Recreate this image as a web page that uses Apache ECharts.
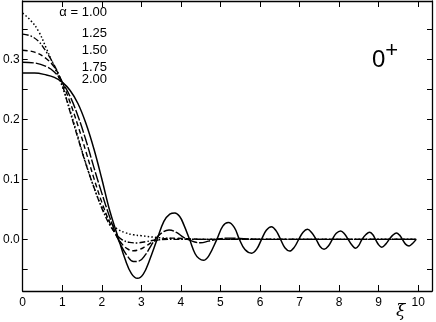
<!DOCTYPE html>
<html>
<head>
<meta charset="utf-8">
<script src="https://cdn.jsdelivr.net/npm/echarts@6/dist/echarts.min.js"></script>
<style>
html, body { margin: 0; padding: 0; background: #fff; }
#chart { width: 436px; height: 322px; }
</style>
</head>
<body>
<div id="chart"></div>
<script>
// curves, [xi, value]
var alpha100 = [[0, 0.377], [0.2, 0.365], [0.4, 0.347], [0.6, 0.318], [0.75, 0.295], [0.9, 0.272], [1.0, 0.255], [1.2, 0.215], [1.4, 0.17], [1.6, 0.126], [1.8, 0.087], [2.0, 0.054], [2.2, 0.03], [2.4, 0.017], [2.6, 0.011], [2.8, 0.0075], [3.0, 0.006], [3.4, 0.003], [3.8, 0.0012], [4.3, 0], [9.95, 0]]
var alpha125 = [[0, 0.342], [0.2, 0.339], [0.4, 0.33], [0.6, 0.312], [0.8, 0.29], [0.96, 0.266], [1.2, 0.212], [1.4, 0.168], [1.6, 0.125], [1.8, 0.087], [2.0, 0.052], [2.2, 0.024], [2.35, 0.01], [2.5, 0.0], [2.7, -0.005], [2.9, -0.006], [3.1, -0.004], [3.4, -0.001], [3.8, 0], [9.95, 0]]
var alpha150 = [[0, 0.315], [0.3, 0.312], [0.6, 0.301], [0.8, 0.287], [0.96, 0.268], [1.2, 0.228], [1.4, 0.189], [1.6, 0.146], [1.8, 0.102], [2.0, 0.062], [2.2, 0.028], [2.35, 0.008], [2.5, -0.007], [2.65, -0.016], [2.8, -0.019], [2.95, -0.017], [3.1, -0.012], [3.3, -0.004], [3.5, 0.0], [3.8, 0.002], [4.2, 0.001], [4.6, 0], [9.95, 0]]
var alpha175 = [[0, 0.295], [0.3, 0.294], [0.6, 0.288], [0.8, 0.279], [0.96, 0.266], [1.2, 0.238], [1.4, 0.205], [1.6, 0.165], [1.8, 0.12], [2.0, 0.077], [2.2, 0.037], [2.35, 0.01], [2.5, -0.012], [2.65, -0.028], [2.8, -0.037], [2.95, -0.036], [3.1, -0.026], [3.25, -0.01], [3.35, 0], [3.5, 0.01], [3.7, 0.0155], [3.9, 0.011], [4.05, 0.004], [4.17, 0], [4.35, -0.0045], [4.5, -0.0057], [4.7, -0.003], [4.9, 0], [5.2, 0.002], [5.5, 0.0015], [6.0, 0], [9.95, 0]]
var alpha200 = [[0, 0.277], [0.3, 0.277], [0.6, 0.274], [0.8, 0.27], [1.0, 0.262], [1.2, 0.248], [1.4, 0.226], [1.6, 0.193], [1.8, 0.151], [2.0, 0.101], [2.2, 0.048], [2.4, 0.006], [2.6, -0.035], [2.75, -0.057], [2.9, -0.065], [3.05, -0.058], [3.2, -0.036], [3.4, 0], [3.57, 0.03], [3.72, 0.042], [3.85, 0.044], [3.97, 0.038], [4.07, 0.025], [4.22, 0], [4.36, -0.024], [4.46, -0.032], [4.57, -0.035], [4.71, -0.027], [4.91, 0], [5.06, 0.022], [5.2, 0.028], [5.35, 0.02], [5.48, 0], [5.62, -0.017], [5.79, -0.023], [5.92, -0.016], [6.04, 0], [6.16, 0.015], [6.29, 0.021], [6.41, 0.014], [6.52, 0], [6.63, -0.014], [6.75, -0.0195], [6.87, -0.013], [6.98, 0], [7.09, 0.012], [7.2, 0.0167], [7.31, 0.011], [7.42, 0], [7.52, -0.012], [7.62, -0.0167], [7.73, -0.011], [7.83, 0], [7.93, 0.01], [8.04, 0.014], [8.14, 0.009], [8.23, 0], [8.33, -0.01], [8.42, -0.015], [8.5, -0.01], [8.58, 0], [8.68, 0.008], [8.77, 0.0117], [8.85, 0.008], [8.92, 0], [9.0, -0.009], [9.08, -0.013], [9.18, -0.008], [9.27, 0], [9.36, 0.007], [9.45, 0.0105], [9.53, 0.007], [9.6, 0], [9.68, -0.008], [9.77, -0.011], [9.87, -0.006], [9.95, 0]]

var xTicks = [0, 1, 2, 3, 4, 5, 6, 7, 8, 9, 10]
var yLabels = [0, 0.1, 0.2, 0.3]
var yTicks = [-0.05, 0, 0.05, 0.1, 0.15, 0.2, 0.25, 0.3, 0.35]
var alphaLabels = ['α = 1.00', '1.25', '1.50', '1.75', '2.00']

var chart = echarts.init(document.getElementById('chart'))
var frame = { show: true, onZero: false, lineStyle: { color: '#000', width: 1.3 } }
var labelFont = { color: '#000', fontSize: 12, fontFamily: 'Liberation Sans' }

function curve(data, type, width) {
  return {
    type: 'line',
    data: data,
    smooth: 0.4,
    showSymbol: false,
    animation: false,
    lineStyle: { color: '#000', width: width, type: type }
  }
}

var option = {
  animation: false,
  grid: { left: 20, right: 4, top: 1, bottom: 31 },
  xAxis: [
    {
      type: 'value', min: 0, max: 10.35, position: 'bottom',
      axisLine: frame,
      axisTick: { show: true, inside: true, length: 6, customValues: xTicks, lineStyle: { color: '#000' } },
      axisLabel: Object.assign({ customValues: xTicks, margin: 6 }, labelFont),
      splitLine: { show: false }
    },
    {
      type: 'value', min: 0, max: 10.35, position: 'top',
      axisLine: frame,
      axisTick: { show: true, inside: true, length: 6, customValues: xTicks, lineStyle: { color: '#000' } },
      axisLabel: { show: false },
      splitLine: { show: false }
    }
  ],
  yAxis: [
    {
      type: 'value', min: -0.0861, max: 0.3972, position: 'left',
      axisLine: frame,
      axisTick: { show: true, inside: true, length: 5, customValues: yTicks, lineStyle: { color: '#000' } },
      axisLabel: Object.assign({
        customValues: yLabels, margin: 3,
        formatter: function (v) { return v.toFixed(1) }
      }, labelFont),
      splitLine: { show: false }
    },
    {
      type: 'value', min: -0.0861, max: 0.3972, position: 'right',
      axisLine: frame,
      axisTick: { show: true, inside: true, length: 5, customValues: yTicks, lineStyle: { color: '#000' } },
      axisLabel: { show: false },
      splitLine: { show: false }
    }
  ],
  series: [
    curve(alpha100, [1.5, 2.2], 1.5),
    curve(alpha125, [6, 2, 1.5, 2], 1.4),
    curve(alpha150, [5, 3], 1.4),
    curve(alpha175, [11, 2], 1.4),
    curve(alpha200, 'solid', 1.5)
  ],
  graphic: [
    { type: 'text', right: 329, top: 6, style: { text: alphaLabels[0], fill: '#000', font: '13px "Liberation Sans"' } },
    { type: 'text', right: 329, top: 27, style: { text: alphaLabels[1], fill: '#000', font: '13px "Liberation Sans"' } },
    { type: 'text', right: 329, top: 44, style: { text: alphaLabels[2], fill: '#000', font: '13px "Liberation Sans"' } },
    { type: 'text', right: 329, top: 61, style: { text: alphaLabels[3], fill: '#000', font: '13px "Liberation Sans"' } },
    { type: 'text', right: 329, top: 73, style: { text: alphaLabels[4], fill: '#000', font: '13px "Liberation Sans"' } },
    {
      type: 'text', left: 372, top: 40,
      style: {
        text: '{a|0}{b|+}', fill: '#000',
        rich: {
          a: { fontSize: 24, fontFamily: 'Liberation Sans', verticalAlign: 'bottom' },
          b: { fontSize: 22, fontFamily: 'Liberation Sans', padding: [0, 0, 10, 0] }
        }
      }
    },
    { type: 'text', left: 396, top: 303, style: { text: 'ξ', fill: '#000', font: 'italic 17px "DejaVu Serif"' } }
  ]
}
chart.setOption(option)
</script>
</body>
</html>
